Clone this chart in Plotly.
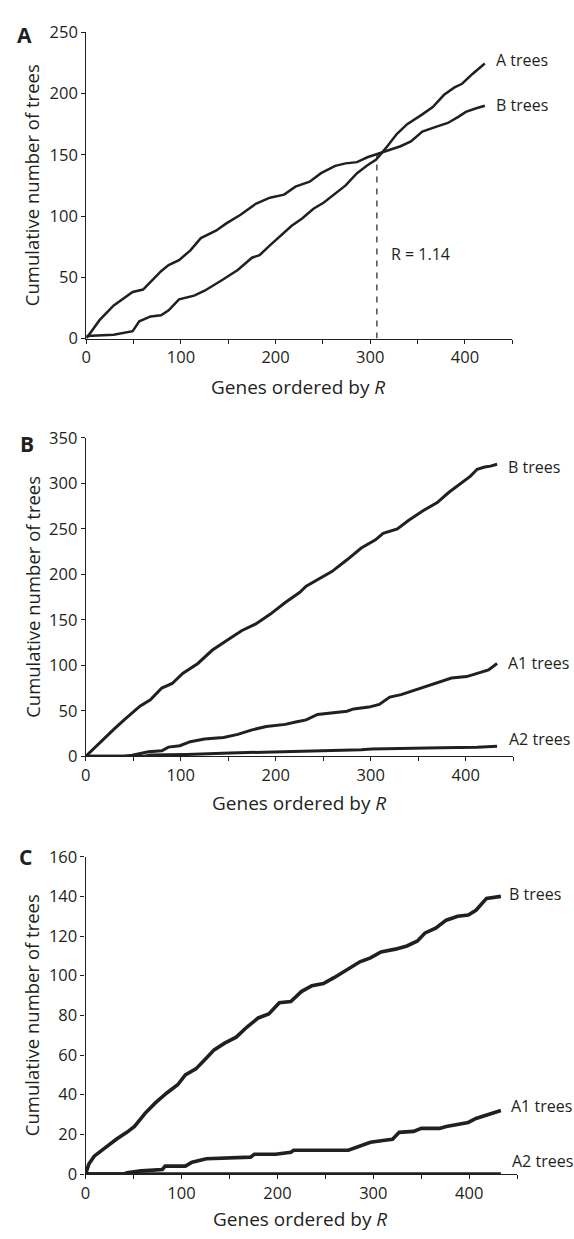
import plotly.graph_objects as go

# ---------------- data ----------------
# Panel A
a_x_Atrees = [0, 14, 29, 49, 56, 68, 79, 87, 98, 114, 125, 144, 160, 175, 183, 194, 205, 217, 228, 240, 251,
              263, 274, 286, 297, 306, 316, 328, 339, 355, 366, 378, 389, 397, 408, 421]
a_y_Atrees = [2, 2.4, 3, 6, 14, 18, 19, 23, 32, 35, 39, 48, 56, 66, 68, 76, 84, 92, 98, 106, 111,
              118, 125, 135, 141.5, 146, 155, 167, 175, 183, 189, 199, 205, 208, 216, 224.5]
a_x_Btrees = [0, 14, 29, 41, 49, 60, 68, 79, 87, 98, 110, 121, 137, 148, 163, 179, 194, 209, 221, 236, 248,
              263, 274, 286, 297, 309, 320, 332, 343, 355, 370, 382, 393, 401, 412, 421]
a_y_Btrees = [0, 15, 27, 34, 38, 40, 46, 55, 60, 64, 72, 82, 88, 94, 101, 110, 115, 117.5, 124, 128, 135,
              141, 143, 144, 148, 151, 153.5, 157, 161, 169, 173, 176, 181, 185, 188, 190]
crossing_gene = 307
crossing_count = 150

# Panel B
b_x_B = [0, 14.5, 30, 41, 57, 68, 80, 91, 102, 118, 133, 148, 164, 179, 194, 210, 225, 232, 248, 259, 275,
         290, 305, 313, 328, 340, 355, 370, 382, 393, 405, 412, 420, 426, 433]
b_y_B = [0, 15, 30, 40.5, 55, 62, 75, 80, 91, 102, 116.5, 127, 138, 145.5, 156, 169, 180, 187, 196, 203, 216,
         229, 238, 245, 250, 259.5, 270, 279, 290, 299, 308, 315.5, 318, 319, 321]
b_x_A1 = [0, 40, 49, 57, 66, 80, 87, 99, 110, 125, 145, 160, 175, 190, 210, 221, 232, 244, 259, 275, 282,
          298, 309, 320, 332, 347, 362, 374, 385, 401, 412, 424, 433]
b_y_A1 = [0, 0, 1, 2.5, 5, 6, 10, 11.5, 16, 19, 20.6, 24, 29, 32.6, 35, 37.6, 40, 46, 48, 49.5, 52,
          54, 57, 65, 67.7, 73, 78.5, 82, 86, 87.6, 91, 95, 102]
b_x_A2 = [0, 62, 68, 106, 152, 183, 213, 259, 290, 301, 336, 374, 412, 433]
b_y_A2 = [0, 0, 1.4, 2, 3.6, 4.3, 5, 6, 7, 8, 9, 9.4, 10, 11]

# Panel C
c_x_B = [0, 3.4, 9, 17, 24, 32, 43, 51, 62, 73, 85, 96, 104, 115, 126, 134, 145, 157, 168, 180, 191, 202,
         214, 225, 236, 248, 259, 274, 286, 297, 308, 323, 335, 346, 354, 365, 376, 388, 399, 407, 418, 433]
c_y_B = [0, 5, 9, 12, 15, 17.5, 21, 24, 30.6, 36, 41, 45, 50, 53, 58.5, 62.6, 66, 69, 74, 78.7, 80.7, 86.4,
         87, 92, 95, 96, 99, 103.6, 107, 109, 112, 113.4, 115, 117.5, 121.6, 124, 128, 130, 130.6, 133, 139, 140]
c_x_A1 = [0, 40, 43, 58, 80, 83, 104, 111, 126, 142, 172, 176, 198, 214, 217, 274, 286, 297, 312, 320, 327,
          342, 350, 369, 376, 388, 399, 407, 414, 422, 433]
c_y_A1 = [0, 0, 0.7, 1.6, 2.3, 4, 4, 6, 7.7, 8, 8.5, 10, 10, 11, 12, 12, 14, 16, 17, 17.5, 21,
          21.5, 23, 23, 24, 25, 26, 28, 29, 30.6, 32]
c_x_A2 = [0, 433]
c_y_A2 = [0, 0]

x_tickvals = [0, 50, 100, 150, 200, 250, 300, 350, 400, 450]
x_ticktext = ["0", "", "100", "", "200", "", "300", "", "400", ""]

# ---------------- figure ----------------
W, H = 574, 1239
INK = "#231f20"
FONT = "Open Sans"

fig = go.Figure()

def add_line(x, y, xa, ya, width):
    fig.add_trace(go.Scatter(x=x, y=y, mode="lines", xaxis=xa, yaxis=ya,
                             line=dict(color=INK, width=width), showlegend=False,
                             hoverinfo="skip"))

add_line(a_x_Atrees, a_y_Atrees, "x", "y", 2.5)
add_line(a_x_Btrees, a_y_Btrees, "x", "y", 2.5)
add_line(b_x_B, b_y_B, "x2", "y2", 3)
add_line(b_x_A1, b_y_A1, "x2", "y2", 3)
add_line(b_x_A2, b_y_A2, "x2", "y2", 3)
add_line(c_x_B, c_y_B, "x3", "y3", 3.6)
add_line(c_x_A1, c_y_A1, "x3", "y3", 3.6)
add_line(c_x_A2, c_y_A2, "x3", "y3", 3.6)

def xdom(a, b):
    return [a / W, b / W]

def ydom(top_px, bot_px):
    return [1 - bot_px / H, 1 - top_px / H]

axis_common = dict(showgrid=False, zeroline=False, showline=True, linecolor=INK, linewidth=1.2,
                   ticks="outside", ticklen=4, tickwidth=1.2, tickcolor=INK,
                   tickfont=dict(family=FONT, size=16.5, color=INK))

panels = [
    ("xaxis", "yaxis", (82.0, 511.7), (20.7, 332.7), 250, 50, "y"),
    ("xaxis2", "yaxis2", (81.5, 512.7), (434.0, 758.3), 350, 50, "y2"),
    ("xaxis3", "yaxis3", (81.3, 516.7), (860.7, 1184.0), 160, 20, "y3"),
]
layout = dict(width=W, height=H, margin=dict(l=0, r=0, t=0, b=0),
              paper_bgcolor="white", plot_bgcolor="white", showlegend=False)
for xk, yk, xd, yd, ymax, ydt, yanchor in panels:
    xa = dict(axis_common)
    xa.update(domain=xdom(*xd), range=[0, 450], tickmode="array",
              tickvals=x_tickvals, ticktext=x_ticktext, anchor=yanchor)
    ya = dict(axis_common)
    ya.update(domain=ydom(*yd), range=[0, ymax], dtick=ydt, tick0=0,
              anchor=yanchor.replace("y", "x"))
    layout[xk] = xa
    layout[yk] = ya
fig.update_layout(**layout)

ann = []
def txt(text, px, py, size=16, xanchor="left", textangle=0, bold=False):
    ann.append(dict(text=("<b>%s</b>" % text) if bold else text, x=px / W, y=1 - py / H,
                    xref="paper", yref="paper",
                    showarrow=False, xanchor=xanchor, yanchor="middle", textangle=textangle,
                    font=dict(family=FONT, size=size, color=INK)))

# panel letters
txt("A", 20, 23, size=21, xanchor="center", bold=True)
txt("B", 21.7, 440, size=21, xanchor="center", bold=True)
txt("C", 20.7, 861, size=21, xanchor="center", bold=True)

# axis titles
for cy in [(20.7 + 332.7) / 2, (434 + 758.3) / 2, (860.7 + 1184) / 2]:
    txt("Cumulative number of trees", 27, cy, size=18.5, xanchor="center", textangle=-90)
for cx, cy in [(295.5, 382), (296.7, 806), (298, 1230)]:
    txt("Genes ordered by <i>R</i>", cx, cy, size=19, xanchor="center")

# series labels
txt("A trees", 493, 48.5)
txt("B trees", 493, 95)
txt("R = 1.14", 387, 247)
txt("B trees", 505, 463.3)
txt("A1 trees", 505, 663.3)
txt("A2 trees", 506, 741)
txt("B trees", 506, 898.3)
txt("A1 trees", 508, 1115)
txt("A2 trees", 509, 1170.7)
fig.update_layout(annotations=ann)

fig.add_shape(type="line", xref="x", yref="y", x0=crossing_gene, x1=crossing_gene, y0=0, y1=crossing_count,
              line=dict(color=INK, width=1.2, dash="6px,6px"))

fig.write_html("out.html", config={"displayModeBar": False},
               post_script="document.body.style.margin='0';document.body.style.overflow='hidden';")
